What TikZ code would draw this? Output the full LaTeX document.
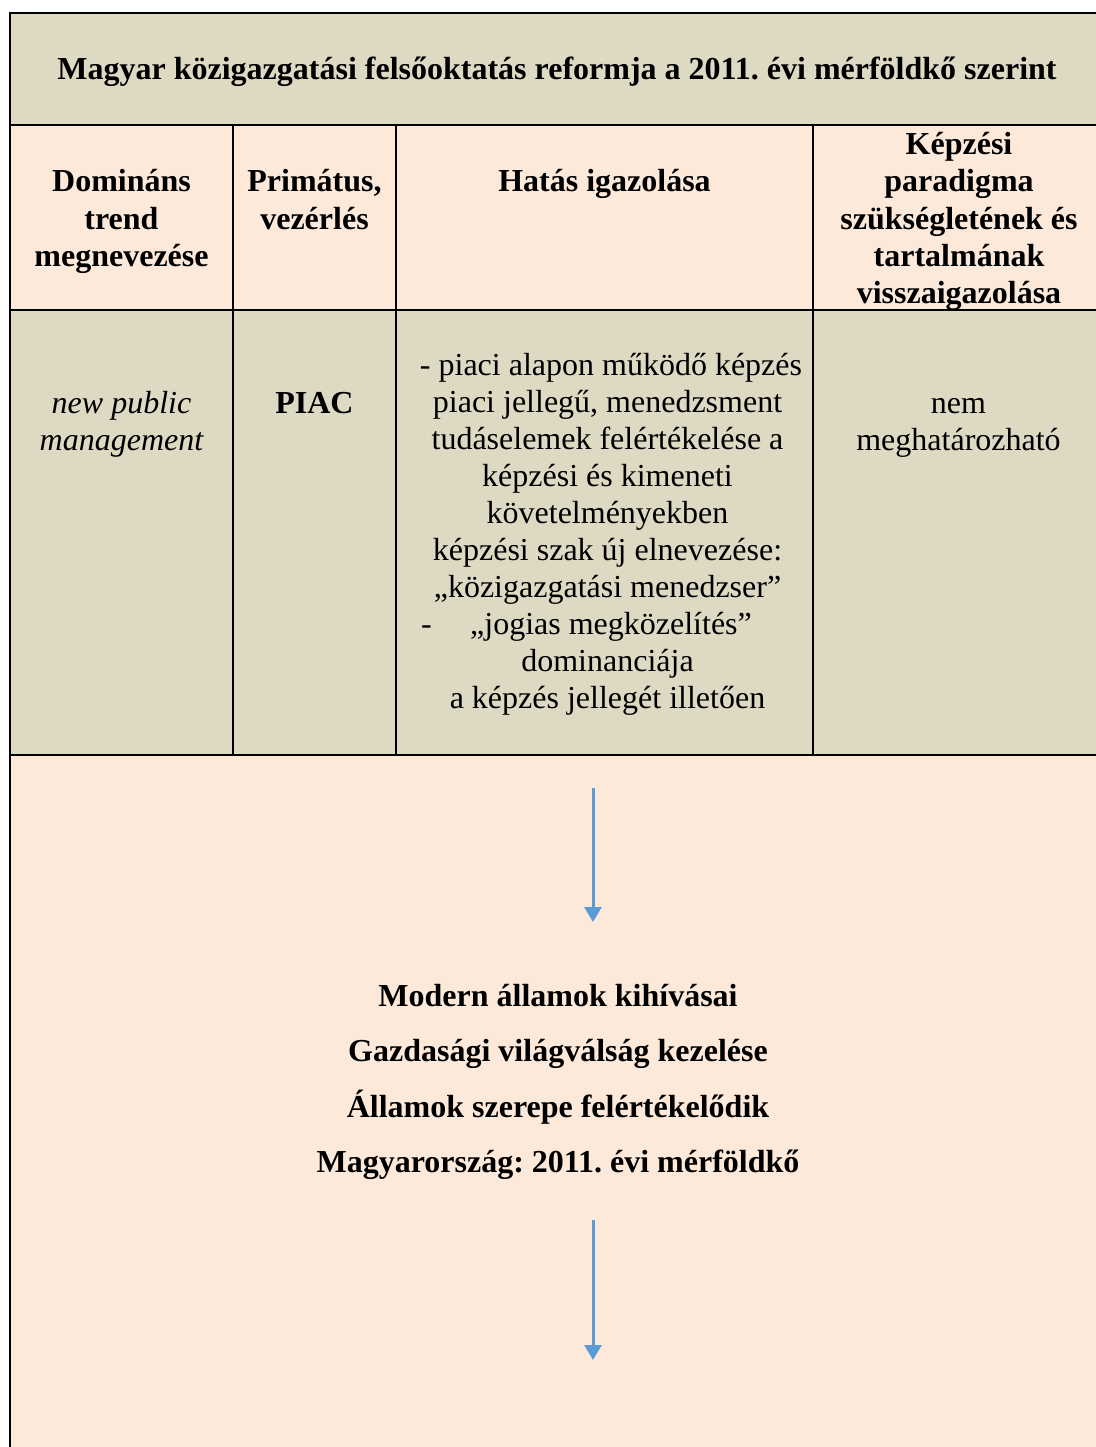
\documentclass[tikz,border=0pt]{standalone}
\usepackage{fontspec}
\setmainfont{Liberation Serif}
\usetikzlibrary{arrows.meta}
\definecolor{tanfill}{HTML}{DDD9C3}
\definecolor{peachfill}{HTML}{FDE9D9}
\definecolor{arrowblue}{HTML}{5B9BD5}
\frenchspacing
\newcommand{\cellsize}{\fontsize{32bp}{37bp}\selectfont}
\begin{document}
\begin{tikzpicture}[x=1bp,y=-1bp,
  rule/.style={line width=2bp, black},
  cell/.style={inner sep=0pt, anchor=base, text width=#1, align=flush center,
    font=\cellsize},
  cell/.default=200bp,
  bigline/.style={inner sep=0pt, anchor=base, font=\cellsize\bfseries},
  flow/.style={line width=3bp, arrowblue, -{Triangle[width=17bp,length=15bp]}}]
\useasboundingbox (0,0) rectangle (1095,1447);
\fill[white] (-5,-5) rectangle (1105,1460);

% row backgrounds (the table runs on past the right and lower page edges)
\fill[tanfill]   (10,13)  rectangle (1110,125);
\fill[peachfill] (10,125) rectangle (1110,310);
\fill[tanfill]   (10,310) rectangle (1110,755);
\fill[peachfill] (10,755) rectangle (1110,1460);

% table rules
\draw[rule] (1110,13) -- (10,13) -- (10,1460);
\draw[rule] (10,125) -- (1110,125);
\draw[rule] (10,310) -- (1110,310);
\draw[rule] (10,755) -- (1110,755);
\draw[rule] (233,125) -- (233,755);
\draw[rule] (396,125) -- (396,755);
\draw[rule] (813,125) -- (813,755);

% title
\node[bigline] (title) at (557,80) {Magyar közigazgatási felsőoktatás reformja a 2011. évi mérföldkő szerint};

% header row
\node[cell=215bp, font=\cellsize\bfseries] (h1) at (121.5,192) {Domináns\\trend\\megnevezése};
\node[cell=160bp, font=\cellsize\bfseries] (h2) at (314.5,192) {Primátus,\\vezérlés};
\node[cell=400bp, font=\cellsize\bfseries] (h3) at (604.5,192) {Hatás igazolása};
\node[cell=270bp, font=\cellsize\bfseries] (h4) at (959,155) {Képzési\\paradigma\\szükségletének és\\tartalmának\\visszaigazolása};

% data row
\node[cell=215bp, font=\cellsize\itshape] (d1) at (121.5,413) {new public\\management};
\node[cell=160bp, font=\cellsize\bfseries] (d2) at (314.5,413) {PIAC};
\node[cell=410bp] (d3) at (607.5,375) {\hspace*{7bp}- piaci alapon működő képzés\\
  piaci jellegű, menedzsment\\
  tudáselemek felértékelése a\\
  képzési és kimeneti\\
  követelményekben\\
  képzési szak új elnevezése:\\
  „közigazgatási menedzser”\\
  \hspace*{7bp}„jogias megközelítés”\\
  dominanciája\\
  a képzés jellegét illetően};
\node[inner sep=0pt, anchor=base west, font=\cellsize] (dash) at (421,634) {-};
\node[cell=270bp] (d4) at (958.5,413) {nem\\meghatározható};

% lower panel
\coordinate (a1s) at (593,788);
\coordinate (a1e) at (593,922);
\draw[flow] (a1s) -- (a1e);

\node[bigline] (m1) at (558,1006) {Modern államok kihívásai};
\node[bigline] (m2) at (558,1061) {Gazdasági világválság kezelése};
\node[bigline] (m3) at (558,1117) {Államok szerepe felértékelődik};
\node[bigline] (m4) at (558,1172) {Magyarország: 2011. évi mérföldkő};

\coordinate (a2s) at (593,1220);
\coordinate (a2e) at (593,1360);
\draw[flow] (a2s) -- (a2e);
\end{tikzpicture}
\end{document}
